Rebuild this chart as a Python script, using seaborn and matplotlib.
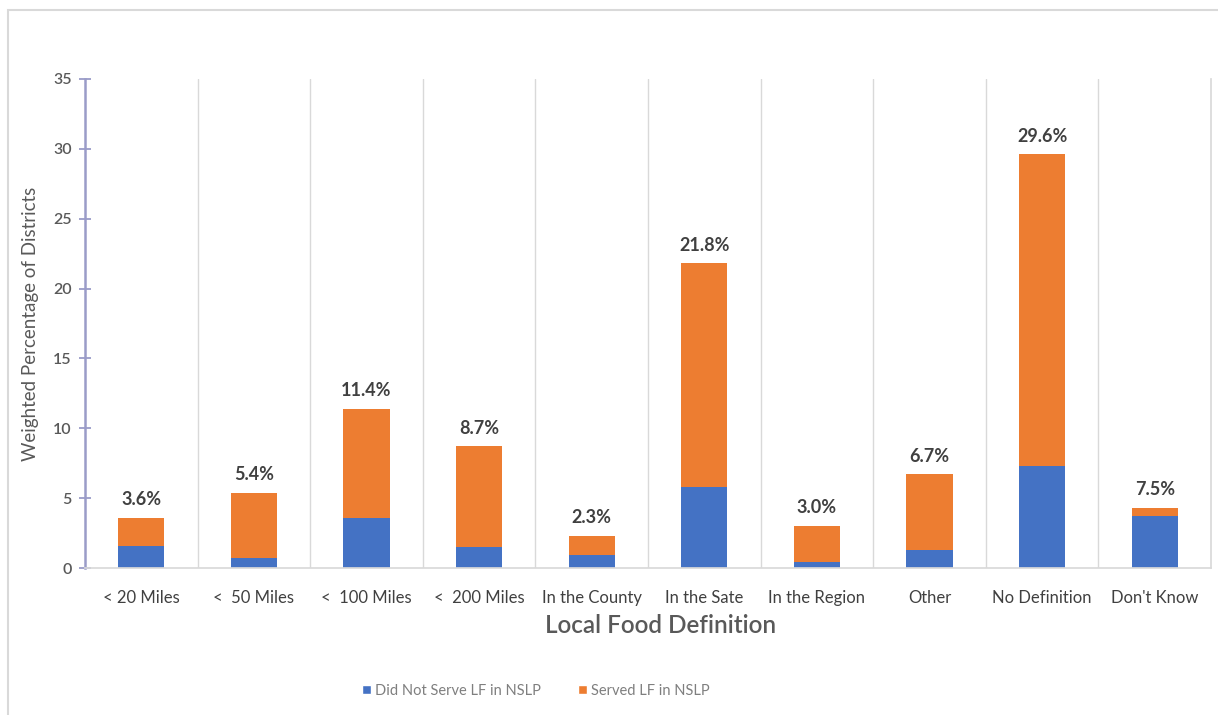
import matplotlib
matplotlib.use("Agg")
import matplotlib.pyplot as plt
from matplotlib.patches import Rectangle, Patch
import seaborn as sns
import pandas as pd
import numpy as np

categories = ["< 20 Miles", "<  50 Miles", "<  100 Miles", "<  200 Miles", "In the County",
              "In the Sate", "In the Region", "Other", "No Definition", "Don't Know"]
did_not_serve = [1.6, 0.7, 3.6, 1.5, 0.9, 5.8, 0.4, 1.3, 7.3, 3.7]
served = [2.0, 4.7, 7.8, 7.2, 1.4, 16.0, 2.6, 5.4, 22.3, 0.6]
bar_labels = ["3.6%", "5.4%", "11.4%", "8.7%", "2.3%", "21.8%", "3.0%", "6.7%", "29.6%", "7.5%"]
yticks = [0, 5, 10, 15, 20, 25, 30, 35]

BLUE = "#4472C4"
ORANGE = "#ED7D31"

sns.set_theme(style="white")
plt.rcParams["font.family"] = ["Lato", "DejaVu Sans"]

df = pd.DataFrame({"cat": categories, "blue": did_not_serve, "orange": served})
df["total"] = df["blue"] + df["orange"]

fig = plt.figure(figsize=(12.18, 7.15), dpi=100)
ax = fig.add_axes([85 / 1218, 1 - 568 / 715, (1211 - 85) / 1218, (568 - 79) / 715])

sns.barplot(data=df, x="cat", y="total", color=ORANGE, width=0.41, ax=ax, saturation=1,
            linewidth=0)
sns.barplot(data=df, x="cat", y="blue", color=BLUE, width=0.41, ax=ax, saturation=1,
            linewidth=0)

ax.set_ylim(0, 35)
ax.set_xlim(-0.5, len(categories) - 0.5)
ax.set_yticks(yticks)
ax.set_yticklabels([str(t) for t in yticks], fontsize=11.5, color="#595959", fontweight="semibold")
ax.set_xticks(range(len(categories)))
ax.set_xticklabels(categories, fontsize=12, color="#404040")
ax.tick_params(axis="x", length=0, pad=16)
ax.tick_params(axis="y", left=True, direction="inout", length=9, width=1.3, color="#9A9CC8", pad=5)

ax.set_xticks(np.arange(0.5, len(categories) - 0.5, 1.0), minor=True)
ax.grid(False)
ax.xaxis.grid(True, which="minor", color="#D9D9D9", linewidth=1)
ax.tick_params(axis="x", which="minor", length=0)

ax.spines["top"].set_visible(False)
ax.spines["right"].set_color("#D9D9D9")
ax.spines["bottom"].set_color("#D9D9D9")
ax.spines["left"].set_color("#9A9CC8")
ax.spines["left"].set_linewidth(1.8)

for i, lab in enumerate(bar_labels):
    ax.text(i, df["total"][i] + 0.7, lab, ha="center", va="bottom", fontsize=13,
            fontweight="bold", color="#404040")

ax.set_xlabel("Local Food Definition", fontsize=17.5, fontweight="semibold", color="#595959")
ax.xaxis.set_label_coords(0.5115, -0.095)
ax.set_ylabel("Weighted Percentage of Districts", fontsize=13.5, color="#595959", labelpad=10)

handles = [Patch(facecolor=BLUE, label="Did Not Serve LF in NSLP"),
           Patch(facecolor=ORANGE, label="Served LF in NSLP")]
fig.legend(handles=handles, loc="center", bbox_to_anchor=(0.44, 1 - 691 / 715), ncol=2,
           frameon=False, fontsize=10.5, handlelength=0.6, handleheight=0.6,
           handletextpad=0.3, columnspacing=2.5, labelcolor="#7F7F7F")

fig.patches.append(Rectangle((8 / 1218, -0.1), 1.2, 1 - 10 / 715 + 0.1, transform=fig.transFigure,
                             fill=False, edgecolor="#D9D9D9", linewidth=1.5))

fig.savefig("out.png", dpi=100)
